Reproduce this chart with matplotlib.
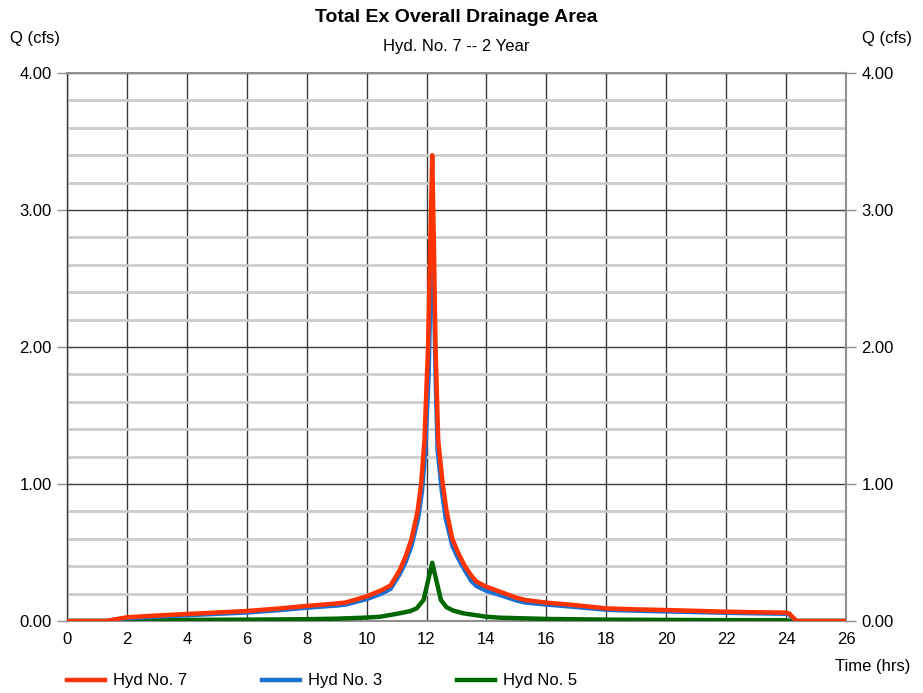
import matplotlib
matplotlib.use("Agg")
import matplotlib.pyplot as plt
from matplotlib.ticker import MultipleLocator, FormatStrFormatter

plt.rcParams['font.family'] = ['Liberation Sans', 'DejaVu Sans']

# Hyd No. 7 (total)
t7 = [0, 1.3, 2, 3, 4, 5, 6, 7, 8, 9, 9.3, 10, 10.5, 10.8, 11.1, 11.3, 11.5,
      11.7, 11.82, 11.93, 12.05, 12.12, 12.19, 12.25, 12.3, 12.39, 12.54,
      12.67, 12.86, 13.05, 13.28, 13.5, 13.67, 14.0, 14.45, 15.0, 15.3, 16,
      17, 18, 19, 20, 21, 22, 23, 24, 24.1, 24.35, 26]
q7 = [0, 0, 0.027, 0.04, 0.051, 0.062, 0.073, 0.09, 0.11, 0.128, 0.135,
      0.18, 0.225, 0.26, 0.37, 0.47, 0.6, 0.8, 1.0, 1.32, 2.0, 2.7, 3.40,
      2.7, 2.0, 1.32, 1.0, 0.8, 0.6, 0.5, 0.4, 0.33, 0.287, 0.25, 0.214,
      0.17, 0.153, 0.134, 0.115, 0.092, 0.085, 0.08, 0.074, 0.068, 0.064,
      0.061, 0.055, 0, 0]

# Hyd No. 3
t3 = [0, 1.3, 2, 3, 4, 5, 6, 7, 8, 9, 9.3, 10, 10.5, 10.8, 11.1, 11.3, 11.5,
      11.72, 11.85, 11.96, 12.07, 12.13, 12.19, 12.25, 12.3, 12.37, 12.51,
      12.64, 12.86, 13.05, 13.28, 13.5, 13.67, 14.0, 14.45, 15.0, 15.3, 16,
      17, 18, 19, 20, 21, 22, 23, 24, 24.1, 24.35, 26]
q3 = [0, 0, 0.02, 0.032, 0.042, 0.052, 0.062, 0.078, 0.097, 0.113, 0.12,
      0.16, 0.2, 0.235, 0.34, 0.43, 0.55, 0.75, 0.95, 1.25, 1.8, 2.4, 3.0,
      2.4, 1.8, 1.25, 0.95, 0.75, 0.55, 0.46, 0.37, 0.29, 0.255, 0.22, 0.19,
      0.15, 0.135, 0.12, 0.102, 0.082, 0.075, 0.07, 0.065, 0.06, 0.056,
      0.053, 0.048, 0, 0]

# Hyd No. 5
t5 = [0, 1.5, 2, 4, 6, 8, 9, 10, 10.45, 11.1, 11.45, 11.67, 11.9, 12.19,
      12.48, 12.67, 12.9, 13.23, 14.0, 14.45, 16, 18, 20, 22, 24, 24.3, 26]
q5 = [0, 0, 0.004, 0.008, 0.01, 0.013, 0.017, 0.025, 0.031, 0.056, 0.072,
      0.092, 0.153, 0.425, 0.153, 0.1, 0.075, 0.056, 0.031, 0.024, 0.015,
      0.01, 0.008, 0.006, 0.005, 0, 0]

fig = plt.figure(figsize=(9.23, 6.93), dpi=100)
ax = fig.add_axes([67 / 923, 1 - 621 / 693, (846 - 67) / 923, (621 - 73) / 693])

ax.set_xlim(0, 26)
ax.set_ylim(0, 4)
ax.xaxis.set_major_locator(MultipleLocator(2))
ax.yaxis.set_major_locator(MultipleLocator(1))
ax.yaxis.set_minor_locator(MultipleLocator(0.2))
ax.yaxis.set_major_formatter(FormatStrFormatter('%.2f'))

# grid
ax.grid(which='minor', axis='y', color='#cccccc', lw=2)
ax.grid(which='major', axis='y', color='#3a3a3a', lw=1)
ax.grid(which='major', axis='x', color='#3a3a3a', lw=1)
ax.set_axisbelow(True)

for s in ['top', 'bottom', 'right']:
    ax.spines[s].set_color('#909090')
    ax.spines[s].set_linewidth(1.5)
ax.spines['left'].set_color('#3a3a3a')
ax.spines['left'].set_linewidth(1)

ax.tick_params(axis='y', which='major', length=7, width=1, color='#909090',
               labelsize=12, pad=4, right=True, labelright=True)
ax.tick_params(axis='y', which='minor', length=0)
ax.tick_params(axis='x', length=0, labelsize=12, pad=8)

ax.plot(t5, q5, color='#006600', lw=3.2, label='Hyd No. 5', zorder=3,
        solid_joinstyle='round')
ax.plot(t3, q3, color='#1a6fd0', lw=3.2, label='Hyd No. 3', zorder=4,
        solid_joinstyle='round')
ax.plot(t7, q7, color='#ff3300', lw=3.2, label='Hyd No. 7', zorder=5,
        solid_joinstyle='round')

h, l = ax.get_legend_handles_labels()
fig.legend(h[::-1], l[::-1], loc='center left', ncol=3, frameon=False,
           bbox_to_anchor=(67 / 923, 1 - 681 / 693), borderpad=0,
           borderaxespad=0, handlelength=2.3, handletextpad=0.45,
           columnspacing=4.5, fontsize=12)

fig.text(456 / 923, 1 - 17 / 693, 'Total Ex Overall Drainage Area',
         ha='center', va='center', fontsize=14, fontweight='bold')
fig.text(456 / 923, 1 - 46 / 693, 'Hyd. No. 7 -- 2 Year',
         ha='center', va='center', fontsize=12)
fig.text(10 / 923, 1 - 38 / 693, 'Q (cfs)', ha='left', va='center', fontsize=12)
fig.text(912 / 923, 1 - 38 / 693, 'Q (cfs)', ha='right', va='center', fontsize=12)
fig.text(910 / 923, 1 - 666 / 693, 'Time (hrs)', ha='right', va='center',
         fontsize=12)

fig.savefig('out.png', dpi=100)
